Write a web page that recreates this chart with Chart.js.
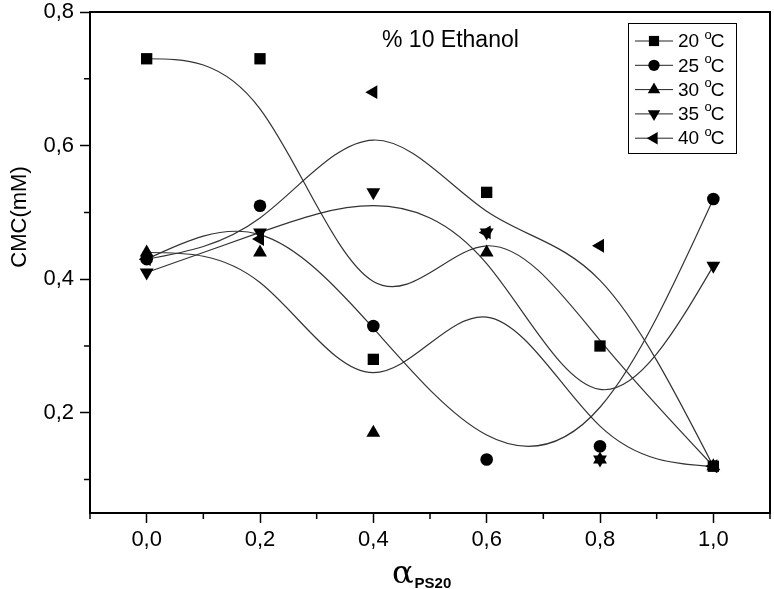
<!DOCTYPE html>
<html>
<head>
<meta charset="utf-8">
<script src="https://cdn.jsdelivr.net/npm/chart.js@4.4.0/dist/chart.umd.min.js"></script>
<style>
  body { margin: 0; background: #fff; }
  #wrap { width: 774px; height: 589px; }
</style>
</head>
<body>
<div id="wrap"><canvas id="cmc-chart" width="774" height="589"></canvas></div>
<script>
// values (% 10 Ethanol)
const alpha = [0.0, 0.2, 0.4, 0.6, 0.8, 1.0];
const temps = ['20', '25', '30', '35', '40'];
const cmc20 = [0.73, 0.73, 0.28, 0.53, 0.30, 0.12];
const cmc25 = [0.43, 0.51, 0.33, 0.13, 0.15, 0.52];
const cmc30 = [0.44, 0.44, 0.17, 0.44, 0.13, 0.12];
const cmc35 = [0.41, 0.47, 0.53, 0.47, 0.13, 0.42];
const cmc40 = [0.43, 0.46, 0.68, 0.47, 0.45, 0.12];

const xTicks = [0.0, 0.2, 0.4, 0.6, 0.8, 1.0];
const xTickLabels = ['0,0', '0,2', '0,4', '0,6', '0,8', '1,0'];
const yTicks = [0.2, 0.4, 0.6, 0.8];
const yTickLabels = ['0,2', '0,4', '0,6', '0,8'];
const xMinor = [-0.1, 0.1, 0.3, 0.5, 0.7, 0.9, 1.1];
const yMinor = [0.1, 0.3, 0.5, 0.7];

const series = [cmc20, cmc25, cmc30, cmc35, cmc40];
const markers = [
    { style: 'rect', rot: 0, r: 8 },
    { style: 'circle', rot: 0, r: 6.3 },
    { style: 'triangle', rot: 0, r: 8 },
    { style: 'triangle', rot: 180, r: 8 },
    { style: 'triangle', rot: 270, r: 8 }
];

const FONT = 'Liberation Sans, Arial, sans-serif';

// smooth B-spline using the points as control points (like Origin's "B-Spline" connect)
const bsplinePlugin = {
    id: 'bspline',
    beforeDatasetsDraw(chart) {
        const ctx = chart.ctx;
        ctx.save();
        ctx.strokeStyle = '#333';
        ctx.lineWidth = 1.2;
        chart.data.datasets.forEach((ds, i) => {
            const pts = chart.getDatasetMeta(i).data.map(p => ({ x: p.x, y: p.y }));
            const n = pts.length;
            const q = [
                { x: 2 * pts[0].x - pts[1].x, y: 2 * pts[0].y - pts[1].y },
                ...pts,
                { x: 2 * pts[n - 1].x - pts[n - 2].x, y: 2 * pts[n - 1].y - pts[n - 2].y }
            ];
            ctx.beginPath();
            for (let k = 0; k + 3 < q.length; k++) {
                const a = q[k], b = q[k + 1], c = q[k + 2], d = q[k + 3];
                if (k === 0) ctx.moveTo((a.x + 4 * b.x + c.x) / 6, (a.y + 4 * b.y + c.y) / 6);
                ctx.bezierCurveTo(
                    (2 * b.x + c.x) / 3, (2 * b.y + c.y) / 3,
                    (b.x + 2 * c.x) / 3, (b.y + 2 * c.y) / 3,
                    (b.x + 4 * c.x + d.x) / 6, (b.y + 4 * c.y + d.y) / 6
                );
            }
            ctx.stroke();
        });
        ctx.restore();
    }
};

// minor ticks, top/right frame, texts, axis titles, legend
const decorPlugin = {
    id: 'decor',
    afterDraw(chart) {
        const ctx = chart.ctx;
        const area = chart.chartArea;
        const xs = chart.scales.x, ys = chart.scales.y;
        ctx.save();
        ctx.strokeStyle = '#000';

        // frame top + right
        ctx.lineWidth = 2;
        ctx.beginPath();
        ctx.moveTo(area.left, area.top);
        ctx.lineTo(area.right, area.top);
        ctx.lineTo(area.right, area.bottom);
        ctx.stroke();

        // minor ticks
        ctx.lineWidth = 1.5;
        ctx.beginPath();
        xMinor.forEach(v => {
            const px = xs.getPixelForValue(v);
            ctx.moveTo(px, area.bottom);
            ctx.lineTo(px, area.bottom + 6);
        });
        yMinor.forEach(v => {
            const py = ys.getPixelForValue(v);
            ctx.moveTo(area.left, py);
            ctx.lineTo(area.left - 6, py);
        });
        ctx.stroke();

        // "% 10 Ethanol"
        ctx.fillStyle = '#000';
        ctx.font = '23px ' + FONT;
        ctx.textAlign = 'left';
        ctx.textBaseline = 'alphabetic';
        ctx.fillText('% 10 Ethanol', 382, 47);

        // y title
        ctx.save();
        ctx.translate(26, 217);
        ctx.rotate(-Math.PI / 2);
        ctx.textAlign = 'center';
        ctx.font = '22px ' + FONT;
        ctx.fillText('CMC(mM)', 0, 0);
        ctx.restore();

        // x title: alpha with subscript PS20
        ctx.font = '32px "DejaVu Serif", serif';
        ctx.fillText('α', 392, 583);
        const aw = ctx.measureText('α').width;
        ctx.font = 'bold 15px ' + FONT;
        ctx.fillText('PS20', 392 + aw + 1, 588);

        // legend
        const box = { x: 628, y: 23, w: 108, h: 130 };
        ctx.fillStyle = '#fff';
        ctx.fillRect(box.x, box.y, box.w, box.h);
        ctx.lineWidth = 1;
        ctx.strokeRect(box.x + 0.5, box.y + 0.5, box.w, box.h);
        chart.data.datasets.forEach((ds, i) => {
            const cy = 41 + i * 24.3;
            ctx.strokeStyle = '#222';
            ctx.lineWidth = 1;
            ctx.beginPath();
            ctx.moveTo(635, cy);
            ctx.lineTo(673, cy);
            ctx.stroke();
            ctx.fillStyle = '#000';
            Chart.helpers.drawPoint(ctx, {
                pointStyle: markers[i].style,
                rotation: markers[i].rot,
                radius: markers[i].r * 0.9,
                borderWidth: 0
            }, 654, cy);
            ctx.fillStyle = '#000';
            ctx.textBaseline = 'middle';
            ctx.font = '19px ' + FONT;
            const t = temps[i] + ' ';
            ctx.fillText(t, 678, cy + 1);
            let tx = 678 + ctx.measureText(t).width;
            ctx.font = '13px ' + FONT;
            ctx.fillText('o', tx, cy - 6);
            tx += ctx.measureText('o').width - 1;
            ctx.font = '19px ' + FONT;
            ctx.fillText('C', tx, cy + 1);
        });
        ctx.restore();
    }
};

function noPad(s) {
    s.paddingTop = 0;
    s.paddingBottom = 0;
    s.paddingLeft = 0;
    s.paddingRight = 0;
}

const ctx = document.getElementById('cmc-chart').getContext('2d');
new Chart(ctx, {
    type: 'scatter',
    data: {
        datasets: series.map((vals, i) => ({
            label: temps[i] + ' °C',
            data: alpha.map((x, j) => ({ x: x, y: vals[j] })),
            pointStyle: markers[i].style,
            rotation: markers[i].rot,
            pointRadius: markers[i].r,
            pointHoverRadius: markers[i].r,
            pointBorderWidth: 0,
            backgroundColor: '#000',
            borderColor: '#000',
            showLine: false
        }))
    },
    options: {
        responsive: false,
        animation: false,
        devicePixelRatio: 1,
        layout: { autoPadding: false, padding: { top: 12, right: 4, left: 0, bottom: 0 } },
        plugins: {
            legend: { display: false },
            tooltip: { enabled: false }
        },
        scales: {
            x: {
                type: 'linear',
                min: -0.1,
                max: 1.1,
                afterBuildTicks: s => { s.ticks = xTicks.map(v => ({ value: v })); },
                afterFit: s => { s.height = 76; noPad(s); },
                ticks: {
                    callback: v => xTickLabels[xTicks.indexOf(v)],
                    color: '#000',
                    font: { family: FONT, size: 22 },
                    padding: 4,
                    maxRotation: 0,
                    autoSkip: false
                },
                grid: { drawOnChartArea: false, drawTicks: true, tickLength: 10, tickWidth: 1.5, tickColor: '#000' },
                border: { color: '#000', width: 2 }
            },
            y: {
                type: 'linear',
                min: 0.05,
                max: 0.8,
                afterBuildTicks: s => { s.ticks = yTicks.map(v => ({ value: v })); },
                afterFit: s => { s.width = 90; noPad(s); },
                ticks: {
                    callback: v => yTickLabels[yTicks.indexOf(v)],
                    color: '#000',
                    font: { family: FONT, size: 22 },
                    padding: 6,
                    autoSkip: false
                },
                grid: { drawOnChartArea: false, drawTicks: true, tickLength: 10, tickWidth: 1.5, tickColor: '#000' },
                border: { color: '#000', width: 2 }
            }
        }
    },
    plugins: [bsplinePlugin, decorPlugin]
});
</script>
</body>
</html>
